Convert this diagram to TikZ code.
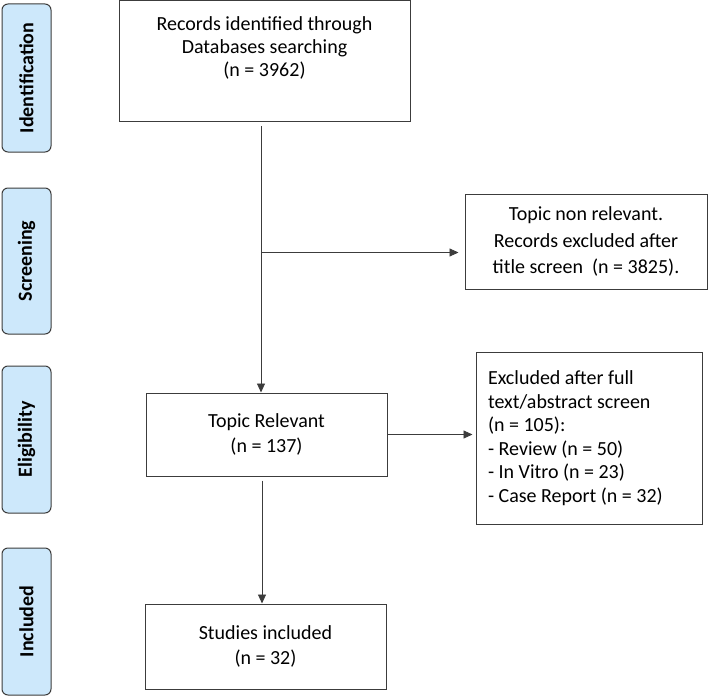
\documentclass[tikz,border=0pt]{standalone}
\usepackage{fontspec}
\setmainfont{Carlito}
\usetikzlibrary{arrows.meta,calc}
\definecolor{phasefill}{RGB}{205,232,251}
\definecolor{linegray}{RGB}{60,60,60}
\begin{document}
\begin{tikzpicture}[x=1pt,y=1pt,
  phase/.style={draw=linegray, line width=1pt, fill=phasefill, rounded corners=6pt,
    inner sep=0pt, rotate=90, font=\fontsize{20}{22}\selectfont\bfseries},
  box/.style={draw=linegray, line width=1pt, fill=white, inner sep=0pt, align=center,
    font=\fontsize{20}{24.5}\selectfont},
  arr/.style={draw=linegray, line width=0.9pt, -{Triangle[length=9pt,width=8pt]}}]
\useasboundingbox (0,0) rectangle (709,-698);

% phase labels
\node[phase, minimum width=148pt, minimum height=49pt] (p1) at (26.5,-78) {Identification};
\node[phase, minimum width=146pt, minimum height=49pt] (p2) at (26.5,-261) {Screening};
\node[phase, minimum width=147pt, minimum height=49pt] (p3) at (26.5,-439.5) {Eligibility};
\node[phase, minimum width=147pt, minimum height=49pt] (p4) at (26.5,-621.5) {Included};

% boxes
\node[box, minimum width=291pt, minimum height=121pt, font=\fontsize{20}{23}\selectfont] (id) at (264.5,-61.5)
  {Records identified through\\Databases searching\\(n = 3962)\\\strut};
\node[box, minimum width=242pt, minimum height=95pt, font=\fontsize{20}{26.5}\selectfont] (nr) at (586,-241.5)
  {Topic non relevant.\\Records excluded after\\title screen~ (n = 3825).};
\node[box, minimum width=241pt, minimum height=83pt] (tr) at (266.5,-434.5)
  {Topic Relevant\\(n = 137)};
\node[box, align=flush left, text width=202pt, inner xsep=12pt, minimum height=172pt,
  font=\fontsize{20}{23.5}\selectfont] (ex) at (589,-438)
  {Excluded after full\\text/abstract screen\\(n = 105):\\- Review (n = 50)\\- In Vitro (n = 23)\\- Case Report (n = 32)};
\node[box, minimum width=241pt, minimum height=85pt] (st) at (265.5,-646.5)
  {Studies included\\(n = 32)};

% connectors
\coordinate (c1) at ([xshift=-3.5pt,yshift=-4pt]id.south);
\coordinate (b1) at ([yshift=-126pt]c1);
\draw[arr] (c1) -- (c1 |- tr.north);
\draw[arr, shorten >=6pt] (b1) -- (b1 -| nr.west);
\draw[arr, shorten >=3pt] (tr.east) -- (tr.east -| ex.west);
\coordinate (c2) at ([xshift=-4.5pt,yshift=-4pt]tr.south);
\draw[arr] (c2) -- (c2 |- st.north);
\end{tikzpicture}
\end{document}
